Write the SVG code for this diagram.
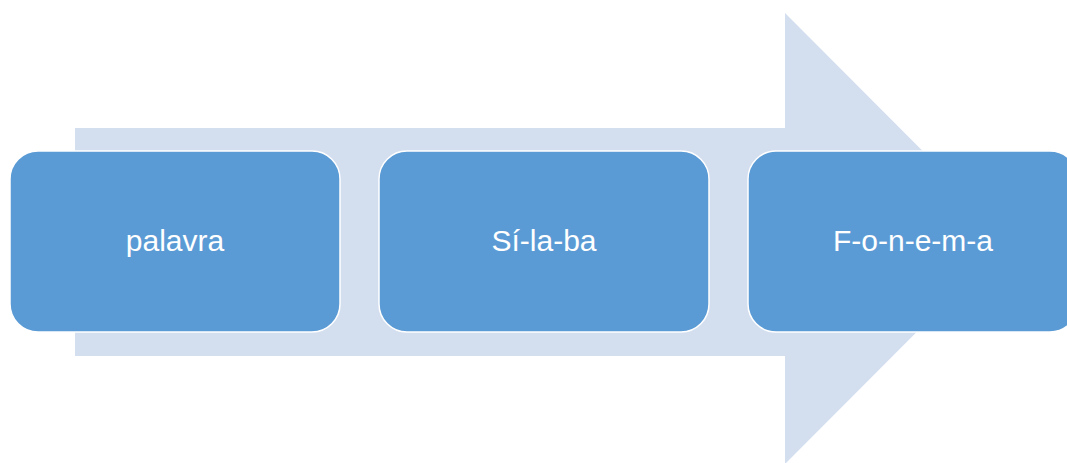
<svg xmlns="http://www.w3.org/2000/svg" width="1067" height="463" viewBox="0 0 1067 463">
<style>
.box{fill:#5B9BD5;stroke:#FFFFFF;stroke-width:1.5}
.lbl{font-family:"Liberation Sans",Arial,sans-serif;font-size:30px;fill:#FFFFFF;text-anchor:middle}
</style>
<rect width="1067" height="463" fill="#FFFFFF"/>
<g id="connectors">
<polygon points="75,128 785,128 785,13 1010,238.5 785,464 785,356 75,356" fill="#D3DEEF"/>
</g>
<g id="node-palavra">
<rect class="box" x="10" y="151" width="330" height="181" rx="28" ry="28"/>
<text class="lbl" x="175" y="251">palavra</text>
</g>
<g id="node-silaba">
<rect class="box" x="379" y="151" width="330" height="181" rx="28" ry="28"/>
<text class="lbl" x="544" y="251">Sí-la-ba</text>
</g>
<g id="node-fonema">
<rect class="box" x="748" y="151" width="330" height="181" rx="28" ry="28"/>
<text class="lbl" x="913" y="251">F-o-n-e-m-a</text>
</g>
</svg>
